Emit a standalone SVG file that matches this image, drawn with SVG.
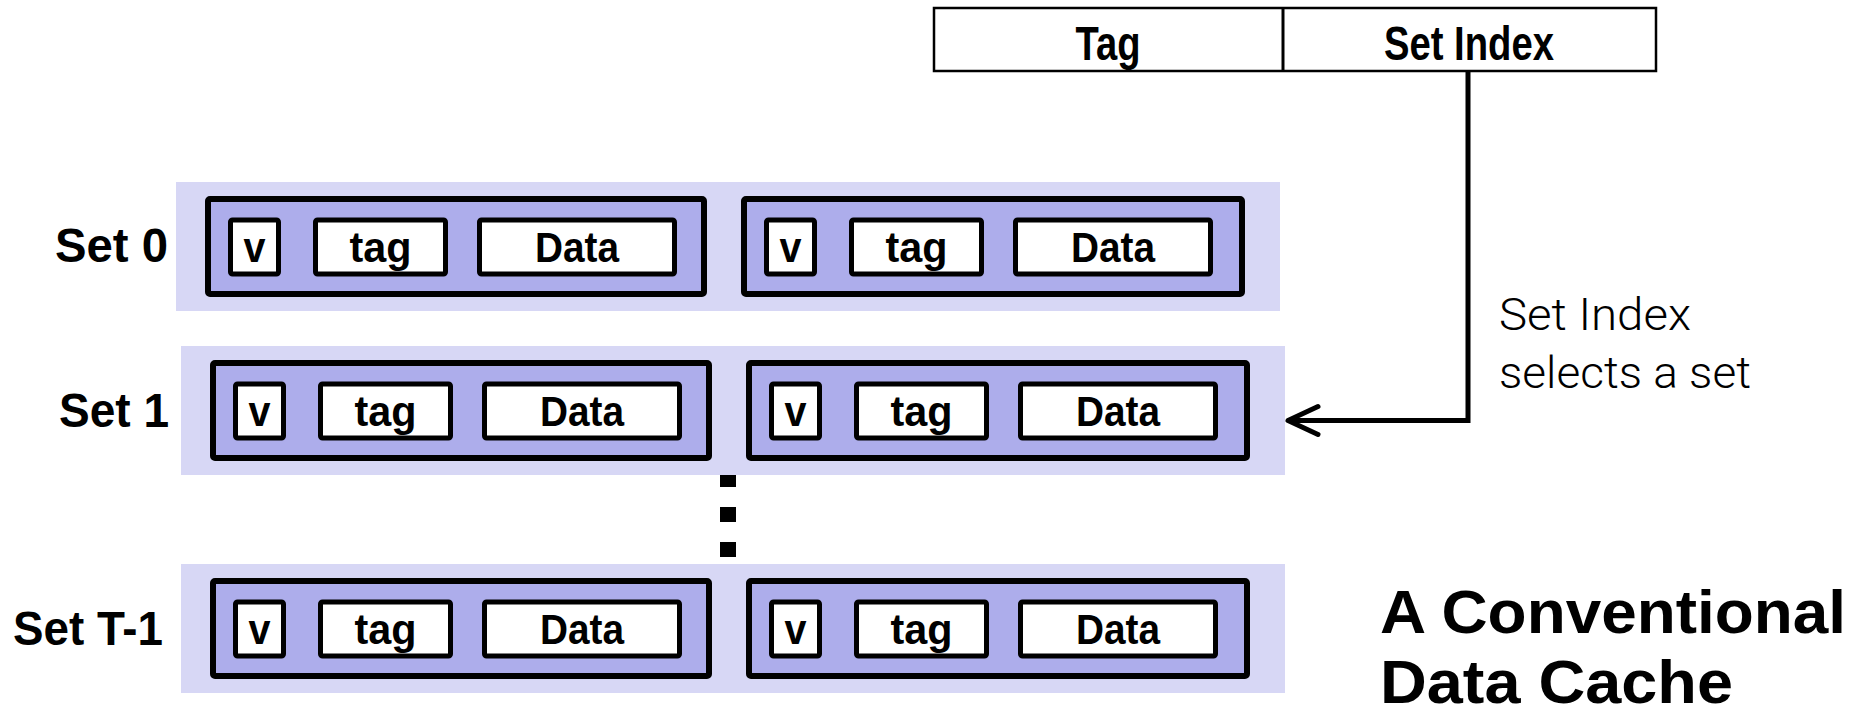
<svg xmlns="http://www.w3.org/2000/svg" width="1863" height="714" viewBox="0 0 1863 714">
<style>
.band{fill:#d7d7f5;}
.way{fill:#adadeb;stroke:#000;stroke-width:6;}
.cell{fill:#fff;stroke:#000;stroke-width:5;}
.bt{font-family:"Liberation Sans",Arial,sans-serif;font-weight:bold;font-size:42px;text-anchor:middle;fill:#000;}
.lbl{font-family:"Liberation Sans",Arial,sans-serif;font-weight:bold;font-size:48px;fill:#000;}
.addr{font-family:"Liberation Sans",Arial,sans-serif;font-weight:bold;font-size:49px;text-anchor:middle;fill:#000;}
.note{font-family:Roboto,"Liberation Sans",sans-serif;font-weight:300;font-size:44px;fill:#000;}
.title{font-family:"Liberation Sans",Arial,sans-serif;font-weight:bold;font-size:61px;fill:#000;}
.conn{fill:none;stroke:#000;stroke-width:5;}
</style>
<defs>
<marker id="arrow" markerUnits="userSpaceOnUse" viewBox="-36 -20 42 40" markerWidth="42" markerHeight="40" refX="0" refY="0" orient="auto">
<path d="M-30,-14 L0,0 L-30,14" fill="none" stroke="#000" stroke-width="5" stroke-linecap="round" stroke-linejoin="round"/>
</marker>
</defs>
<rect width="1863" height="714" fill="#fff"/>

<g id="address">
<rect x="934" y="8" width="722" height="63" fill="#fff" stroke="#000" stroke-width="2.5"/>
<line x1="1283" y1="8" x2="1283" y2="71" stroke="#000" stroke-width="3"/>
<text class="addr" x="1108" y="60" textLength="65" lengthAdjust="spacingAndGlyphs">Tag</text>
<text class="addr" x="1469" y="60" textLength="170" lengthAdjust="spacingAndGlyphs">Set Index</text>
</g>

<g id="set0">
<rect class="band" x="176" y="182" width="1104" height="129"/>
<text class="lbl" x="55" y="262" textLength="113" lengthAdjust="spacingAndGlyphs">Set 0</text>
<g id="set0-way0">
<rect class="way" x="208" y="199" width="496" height="95" rx="2"/>
<rect class="cell" x="230.5" y="220" width="48" height="54" rx="2"/><text class="bt" x="254.5" y="262" textLength="22" lengthAdjust="spacingAndGlyphs">v</text>
<rect class="cell" x="315.5" y="220" width="130" height="54" rx="2"/><text class="bt" x="380.5" y="262" textLength="62" lengthAdjust="spacingAndGlyphs">tag</text>
<rect class="cell" x="479.5" y="220" width="195" height="54" rx="2"/><text class="bt" x="577" y="262" textLength="84" lengthAdjust="spacingAndGlyphs">Data</text>
</g>
<g id="set0-way1">
<rect class="way" x="744" y="199" width="498" height="95" rx="2"/>
<rect class="cell" x="766.5" y="220" width="48" height="54" rx="2"/><text class="bt" x="790.5" y="262" textLength="22" lengthAdjust="spacingAndGlyphs">v</text>
<rect class="cell" x="851.5" y="220" width="130" height="54" rx="2"/><text class="bt" x="916.5" y="262" textLength="62" lengthAdjust="spacingAndGlyphs">tag</text>
<rect class="cell" x="1015.5" y="220" width="195" height="54" rx="2"/><text class="bt" x="1113" y="262" textLength="84" lengthAdjust="spacingAndGlyphs">Data</text>
</g>
</g>

<g id="set1">
<rect class="band" x="181" y="346" width="1104" height="129"/>
<text class="lbl" x="59" y="427" textLength="110" lengthAdjust="spacingAndGlyphs">Set 1</text>
<g id="set1-way0">
<rect class="way" x="213" y="363" width="496" height="95" rx="2"/>
<rect class="cell" x="235.5" y="384" width="48" height="54" rx="2"/><text class="bt" x="259.5" y="426" textLength="22" lengthAdjust="spacingAndGlyphs">v</text>
<rect class="cell" x="320.5" y="384" width="130" height="54" rx="2"/><text class="bt" x="385.5" y="426" textLength="62" lengthAdjust="spacingAndGlyphs">tag</text>
<rect class="cell" x="484.5" y="384" width="195" height="54" rx="2"/><text class="bt" x="582" y="426" textLength="84" lengthAdjust="spacingAndGlyphs">Data</text>
</g>
<g id="set1-way1">
<rect class="way" x="749" y="363" width="498" height="95" rx="2"/>
<rect class="cell" x="771.5" y="384" width="48" height="54" rx="2"/><text class="bt" x="795.5" y="426" textLength="22" lengthAdjust="spacingAndGlyphs">v</text>
<rect class="cell" x="856.5" y="384" width="130" height="54" rx="2"/><text class="bt" x="921.5" y="426" textLength="62" lengthAdjust="spacingAndGlyphs">tag</text>
<rect class="cell" x="1020.5" y="384" width="195" height="54" rx="2"/><text class="bt" x="1118" y="426" textLength="84" lengthAdjust="spacingAndGlyphs">Data</text>
</g>
</g>

<g id="ellipsis">
<rect x="720" y="475" width="16" height="12"/>
<rect x="720" y="507" width="16" height="15"/>
<rect x="720" y="542" width="16" height="15"/>
</g>

<g id="setT">
<rect class="band" x="181" y="564" width="1104" height="129"/>
<text class="lbl" x="13" y="645" textLength="150" lengthAdjust="spacingAndGlyphs">Set T-1</text>
<g id="setT-way0">
<rect class="way" x="213" y="581" width="496" height="95" rx="2"/>
<rect class="cell" x="235.5" y="602" width="48" height="54" rx="2"/><text class="bt" x="259.5" y="644" textLength="22" lengthAdjust="spacingAndGlyphs">v</text>
<rect class="cell" x="320.5" y="602" width="130" height="54" rx="2"/><text class="bt" x="385.5" y="644" textLength="62" lengthAdjust="spacingAndGlyphs">tag</text>
<rect class="cell" x="484.5" y="602" width="195" height="54" rx="2"/><text class="bt" x="582" y="644" textLength="84" lengthAdjust="spacingAndGlyphs">Data</text>
</g>
<g id="setT-way1">
<rect class="way" x="749" y="581" width="498" height="95" rx="2"/>
<rect class="cell" x="771.5" y="602" width="48" height="54" rx="2"/><text class="bt" x="795.5" y="644" textLength="22" lengthAdjust="spacingAndGlyphs">v</text>
<rect class="cell" x="856.5" y="602" width="130" height="54" rx="2"/><text class="bt" x="921.5" y="644" textLength="62" lengthAdjust="spacingAndGlyphs">tag</text>
<rect class="cell" x="1020.5" y="602" width="195" height="54" rx="2"/><text class="bt" x="1118" y="644" textLength="84" lengthAdjust="spacingAndGlyphs">Data</text>
</g>
</g>

<g id="connectors">
<path class="conn" d="M1468,71 V420.5 H1288" marker-end="url(#arrow)"/>
</g>

<g id="note">
<text class="note" x="1499" y="330" textLength="192" lengthAdjust="spacingAndGlyphs">Set Index</text>
<text class="note" x="1499" y="388" textLength="252" lengthAdjust="spacingAndGlyphs">selects a set</text>
</g>

<g id="title">
<text class="title" x="1380" y="633" textLength="466" lengthAdjust="spacingAndGlyphs">A Conventional</text>
<text class="title" x="1380" y="703" textLength="353" lengthAdjust="spacingAndGlyphs">Data Cache</text>
</g>
</svg>
